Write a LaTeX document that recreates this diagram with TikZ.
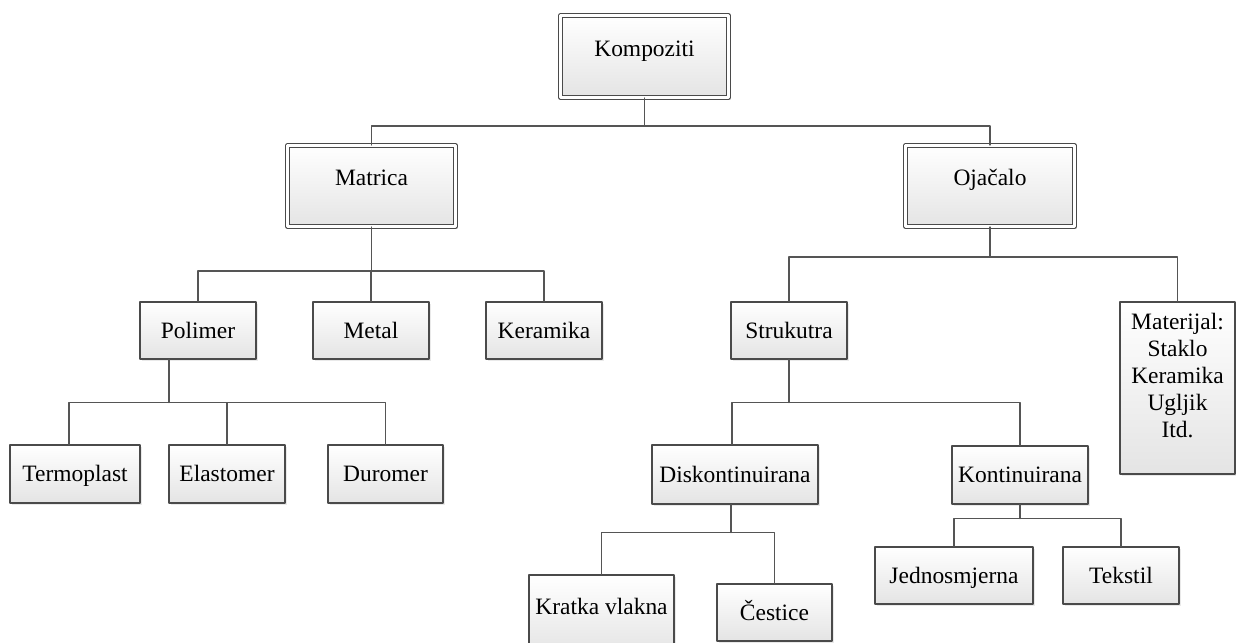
\documentclass[tikz,border=0pt]{standalone}
\usepackage{fontspec}
\setmainfont{Liberation Serif}
\usepackage{tikz}
\usetikzlibrary{calc,shadows}
\definecolor{boxline}{HTML}{4A4A4A}
\definecolor{boxshade}{HTML}{E4E4E4}
\definecolor{linkline}{HTML}{555555}
\tikzset{
every picture/.style={line cap=round,line join=round},
org box/.style={
  draw=boxline,
  line width=0.9pt,
  top color=white,
  bottom color=boxshade,
  inner sep=0pt,
  align=center,
  text height=13.5pt,
  text depth=2pt,
  font=\fontsize{17.6}{20.25}\selectfont,
  drop shadow={shadow xshift=1.5pt,shadow yshift=-1.5pt,opacity=0.25,fill=black!35}
},
main box/.style={org box, double=white, double distance=2pt, line width=0.8pt, text depth=14pt},
free box/.style={org box, text height=, text depth=},
box size/.style 2 args={minimum width=#1*0.75pt, minimum height=#2*0.75pt},
link/.style={draw=linkline, line width=0.9pt}
}
\begin{document}
\begin{tikzpicture}[x=0.75pt,y=-0.75pt]
\useasboundingbox (0,0) rectangle (1236,643);
% top level
\node[main box, box size={168}{82}] (komp) at (644.5,56.5) {Kompoziti};
\node[main box, box size={168}{81}] (matr) at (371.5,186) {Matrica};
\node[main box, box size={169}{81}] (ojac) at (990,186) {Ojačalo};
% matrica branch
\node[org box, box size={116}{57}] (poli) at (198,330.5) {Polimer};
\node[org box, box size={116}{57}] (meta) at (371,330.5) {Metal};
\node[org box, box size={116}{57}] (kera) at (544,330.5) {Keramika};
\node[org box, box size={130}{58}] (term) at (75,474) {Termoplast};
\node[org box, box size={116}{58}] (elas) at (227,474) {Elastomer};
\node[org box, box size={115}{58}] (duro) at (385.5,474) {Duromer};
% ojacalo branch
\node[org box, box size={116}{57}] (stru) at (789,330.5) {Strukutra};
\node[free box, box size={115}{172}] (mate) at (1177.5,388) {Materijal:\\Staklo\\Keramika\\Ugljik\\Itd.\\[-2pt]\mbox{}};
\node[org box, box size={166}{59}] (disk) at (735,474.5) {Diskontinuirana};
\node[org box, box size={136}{58}] (kont) at (1020,475) {Kontinuirana};
\node[org box, box size={145}{80}, text depth=15pt] (krat) at (601.5,615) {Kratka vlakna};
\node[org box, box size={115}{57}] (cest) at (774.5,612.5) {Čestice};
\node[org box, box size={158}{57}] (jedn) at (954,575.5) {Jednosmjerna};
\node[org box, box size={116}{57}] (teks) at (1121,575.5) {Tekstil};
% connectors
\draw[link] (komp.south) -- ++(0,28) coordinate (kbus);
\draw[link] (matr.north) |- (kbus) -| (ojac.north);
\draw[link] (matr.south) -- ++(0,44) coordinate (mbus);
\draw[link] (poli.north) |- (mbus) -| (kera.north);
\draw[link] (meta.north) -- (meta.north |- mbus);
\draw[link] ($(poli.south)+(-29,0)$) -- ++(0,43) coordinate (pbus);
\draw[link] ($(term.north)+(-6,0)$) |- (pbus) -| (duro.north);
\draw[link] (elas.north) -- (elas.north |- pbus);
\draw[link] (ojac.south) -- ++(0,30) coordinate (obus);
\draw[link] (stru.north) |- (obus) -| (mate.north);
\draw[link] (stru.south) -- ++(0,43) coordinate (sbus);
\draw[link] ($(disk.north)+(-3,0)$) |- (sbus) -| (kont.north);
\draw[link] ($(disk.south)+(-4,0)$) -- ++(0,28) coordinate (dbus);
\draw[link] (krat.north) |- (dbus) -| (cest.north);
\draw[link] (kont.south) -- ++(0,14) coordinate (nbus);
\draw[link] (jedn.north) |- (nbus) -| (teks.north);
\end{tikzpicture}
\end{document}
